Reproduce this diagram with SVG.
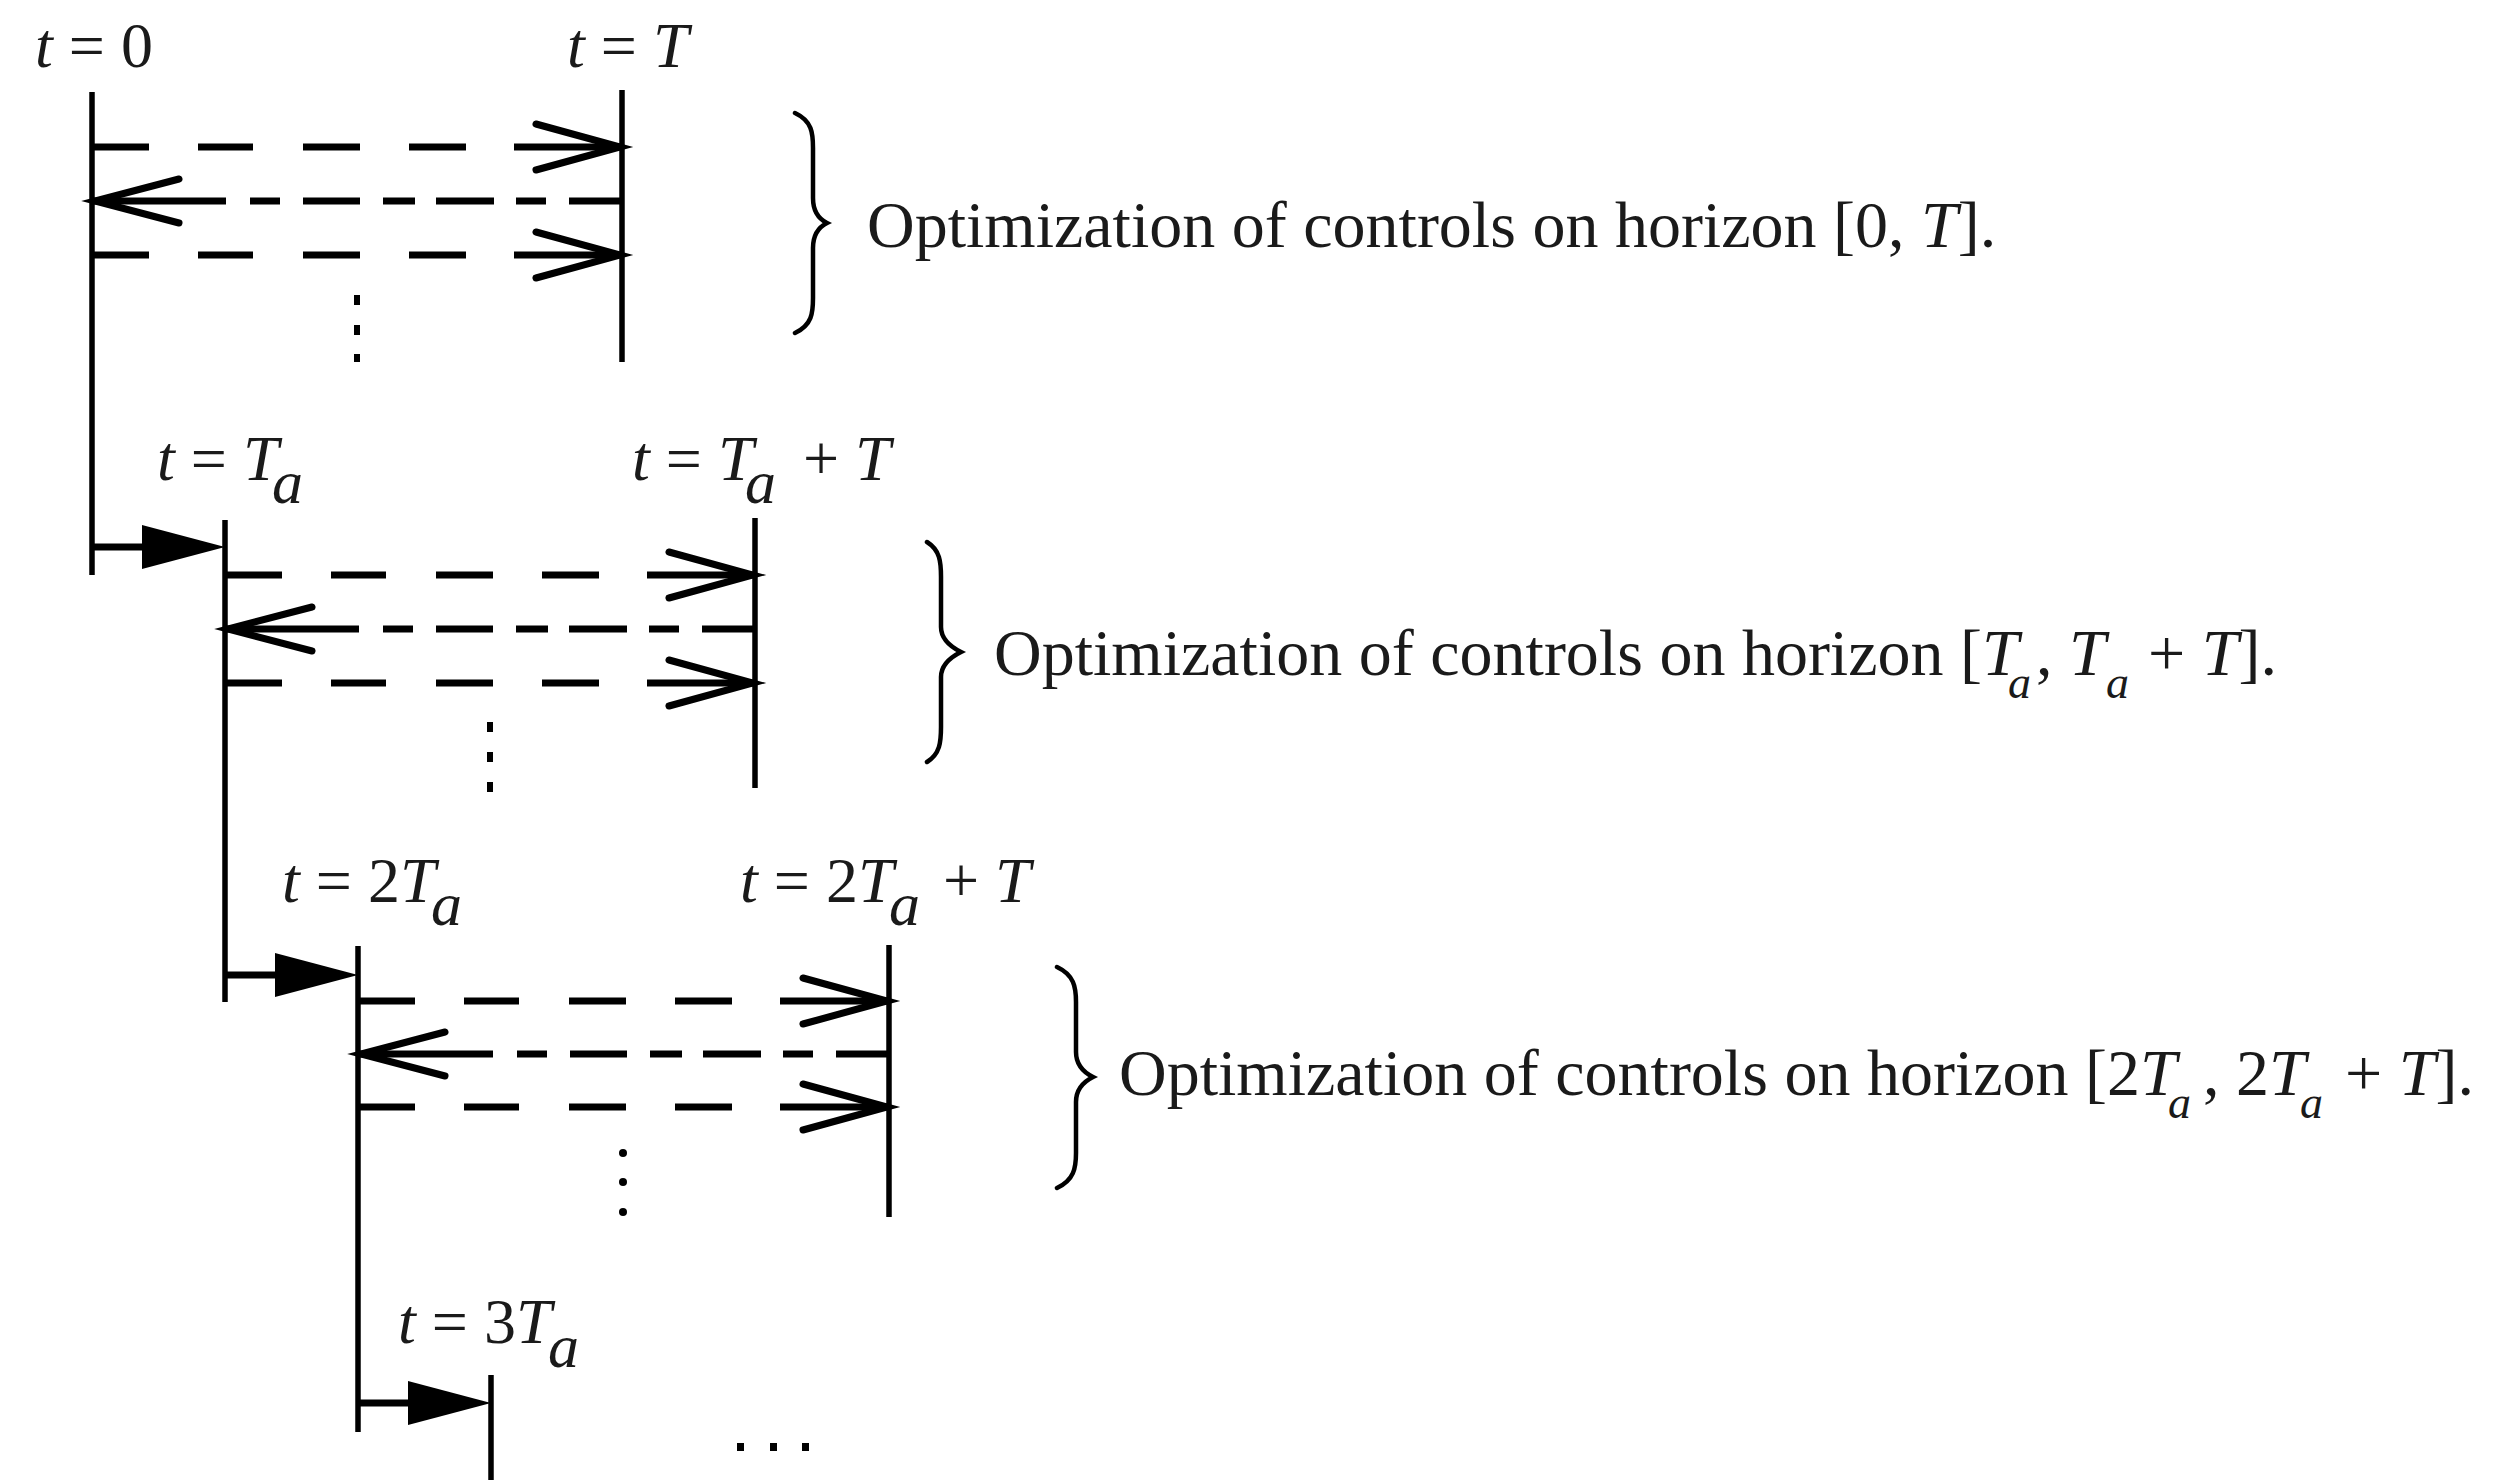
<svg xmlns="http://www.w3.org/2000/svg" width="2494" height="1480" viewBox="0 0 2494 1480">
<style>
.ln{stroke:#000;stroke-width:5.5;fill:none}
.ds{stroke:#000;stroke-width:7;fill:none}
.st{stroke:#000;stroke-width:7;fill:none}
.fw{stroke-dasharray:55 49 55 50 57 49 57 48 300}
.bw{stroke-dasharray:53 23 30 22 58 21 32 23 57 23 30 24 400}
.ah{stroke:#000;stroke-width:7;fill:none;stroke-linecap:round;stroke-linejoin:miter}
.br{stroke:#000;stroke-width:4.5;fill:none;stroke-linecap:round}
.tri{fill:#000}
.dot{fill:#000}
.lbl{font-family:"Liberation Serif","Times New Roman",serif;font-size:64px;fill:#1a1a1a}
.txt{font-family:"Liberation Serif","Times New Roman",serif;font-size:66px;fill:#1a1a1a}
.i{font-style:italic}
.sub{font-size:62px}
.sub2{font-size:46px}
</style>
<rect width="2494" height="1480" fill="#fff"/>

<g id="block0">
<path class="ln" d="M92 92V575"/>
<path class="ln" d="M622 90V362"/>
<rect class="dot" x="354" y="295" width="6" height="10"/>
<rect class="dot" x="354" y="325" width="6" height="10"/>
<rect class="dot" x="354" y="354" width="6" height="8"/>
<text class="lbl" x="35" y="67"><tspan class="i">t</tspan> = 0</text>
<text class="lbl" x="567" y="67"><tspan class="i">t</tspan> = <tspan class="i">T</tspan></text>
</g>

<g id="block1">
<path class="ln" d="M225 520V1002"/>
<path class="ln" d="M755 518V788"/>
<rect class="dot" x="487" y="722" width="6" height="10"/>
<rect class="dot" x="487" y="752" width="6" height="10"/>
<rect class="dot" x="487" y="782" width="6" height="10"/>
<text class="lbl" x="157" y="480"><tspan class="i">t</tspan> = <tspan class="i">T</tspan><tspan class="i sub" x="272" y="503">a</tspan></text>
<text class="lbl" x="632" y="480"><tspan class="i">t</tspan> = <tspan class="i">T</tspan><tspan class="i sub" x="745" y="503">a</tspan><tspan x="803" y="480">+ </tspan><tspan class="i">T</tspan></text>
</g>

<g id="block2">
<path class="ln" d="M358 946V1432"/>
<path class="ln" d="M889 945V1217"/>
<circle class="dot" cx="623" cy="1153" r="4"/>
<circle class="dot" cx="623" cy="1182" r="4"/>
<circle class="dot" cx="623" cy="1212" r="4"/>
<text class="lbl" x="282" y="902"><tspan class="i">t</tspan> = 2<tspan class="i">T</tspan><tspan class="i sub" x="431" y="925">a</tspan></text>
<text class="lbl" x="740" y="902"><tspan class="i">t</tspan> = 2<tspan class="i">T</tspan><tspan class="i sub" x="889" y="925">a</tspan><tspan x="943" y="902">+ </tspan><tspan class="i">T</tspan></text>
</g>

<g id="block3">
<path class="ln" d="M491 1375V1480"/>
<text class="lbl" x="398" y="1343"><tspan class="i">t</tspan> = 3<tspan class="i">T</tspan><tspan class="i sub" x="548" y="1367">a</tspan></text>
<rect class="dot" x="737" y="1443" width="7" height="8"/>
<rect class="dot" x="770" y="1443" width="7" height="8"/>
<rect class="dot" x="802" y="1443" width="7" height="8"/>
</g>

<g id="note0">
<path class="br" d="M795 113C812 121 813 133 813 148L813 198C813 212 819 219 827 223C819 227 813 234 813 248L813 298C813 313 812 325 795 333"/>
<text class="txt" x="867" y="247">Optimization of controls on horizon [0, <tspan class="i">T</tspan>].</text>
</g>

<g id="note1">
<path class="br" d="M927 542C940 550 941 562 941 577L941 627C941 641 953 648 961 652C953 656 941 663 941 677L941 727C941 742 940 754 927 762"/>
<text class="txt" x="994" y="675">Optimization of controls on horizon [<tspan class="i">T</tspan><tspan class="i sub2" x="2008" y="698">a</tspan><tspan x="2036" y="675">, </tspan><tspan class="i">T</tspan><tspan class="i sub2" x="2106" y="698">a</tspan><tspan x="2148" y="675">+ </tspan><tspan class="i">T</tspan>].</text>
</g>

<g id="note2">
<path class="br" d="M1057 967C1074 975 1076 987 1076 1002L1076 1052C1076 1066 1085 1073 1093 1077C1085 1081 1076 1088 1076 1102L1076 1153C1076 1168 1074 1180 1057 1188"/>
<text class="txt" x="1119" y="1095">Optimization of controls on horizon [2<tspan class="i">T</tspan><tspan class="i sub2" x="2168" y="1118">a</tspan><tspan x="2203" y="1095">, 2</tspan><tspan class="i">T</tspan><tspan class="i sub2" x="2300" y="1118">a</tspan><tspan x="2345" y="1095">+ </tspan><tspan class="i">T</tspan>].</text>
</g>

<g id="connectors">
<!-- block0 -->
<path class="ds fw" d="M94 147H622"/>
<path class="ah" d="M536 124L620 147L536 170"/>
<path class="ds bw" d="M622 201H94"/>
<path class="ah" d="M179 179L95 201L179 223"/>
<path class="ds fw" d="M94 255H622"/>
<path class="ah" d="M536 232L620 255L536 278"/>
<!-- block1 -->
<path class="ds fw" d="M227 575H755"/>
<path class="ah" d="M669 552L753 575L669 598"/>
<path class="ds bw" d="M755 629H227"/>
<path class="ah" d="M312 607L228 629L312 651"/>
<path class="ds fw" d="M227 683H755"/>
<path class="ah" d="M669 660L753 683L669 706"/>
<!-- block2 -->
<path class="ds fw" d="M360 1001H889"/>
<path class="ah" d="M803 978L887 1001L803 1024"/>
<path class="ds bw" d="M889 1054H360"/>
<path class="ah" d="M445 1032L361 1054L445 1076"/>
<path class="ds fw" d="M360 1107H889"/>
<path class="ah" d="M803 1084L887 1107L803 1130"/>
<!-- step arrows -->
<path class="st" d="M92 547H150"/>
<polygon class="tri" points="142,525 225,547 142,569"/>
<path class="st" d="M225 975H283"/>
<polygon class="tri" points="275,953 358,975 275,997"/>
<path class="st" d="M358 1403H416"/>
<polygon class="tri" points="408,1381 491,1403 408,1425"/>
</g>
</svg>
